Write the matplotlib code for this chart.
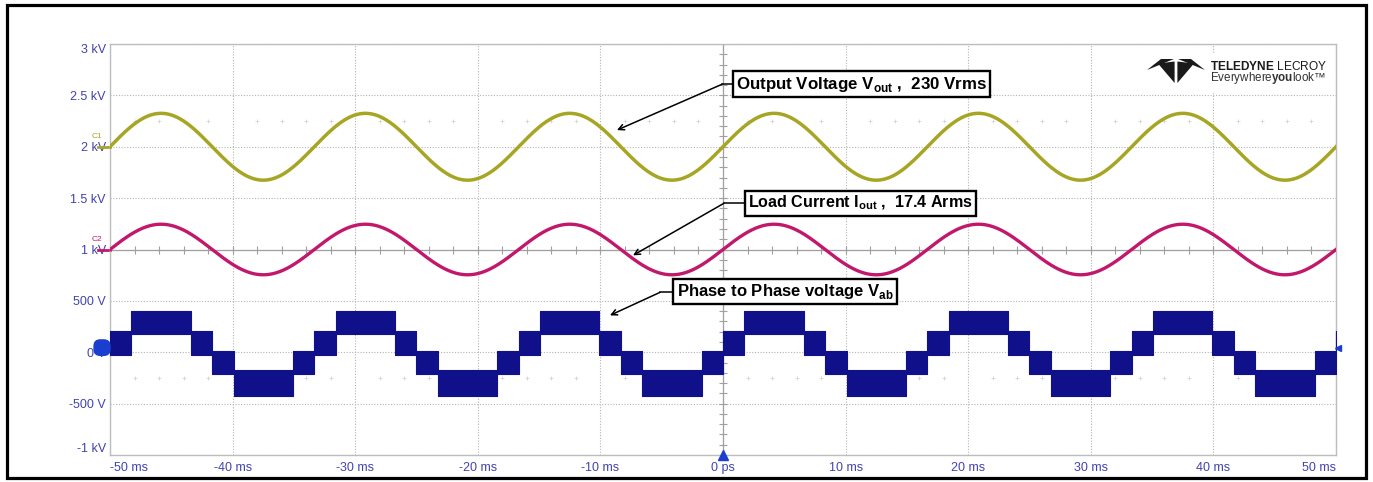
import numpy as np
import matplotlib
matplotlib.use("Agg")
import matplotlib.pyplot as plt
from matplotlib.patches import Polygon, Rectangle, FancyBboxPatch
from matplotlib.transforms import Affine2D

plt.rcParams['font.family'] = ['Liberation Sans', 'DejaVu Sans']
plt.rcParams['mathtext.fontset'] = 'custom'
plt.rcParams['mathtext.rm'] = 'Liberation Sans'
plt.rcParams['mathtext.bf'] = 'Liberation Sans:bold'

# scope readings
freq_hz = 60.0
v_out_rms = 230.0        # C1, output voltage
i_out_rms = 17.4         # C2, load current
c1_offset = 2000.0       # V on screen
c2_offset = 1000.0
c2_volts_per_amp = 10.0

# C3 phase-to-phase voltage, one period: step start (ms) and PWM band limits (V)
c3_step_ms = [0.0, 1.75, 6.58, 8.33, 10.08, 14.92]
c3_band_hi = [205, 400, 205, 10, -175, 10]
c3_band_lo = [-25, 180, -25, -215, -425, -215]

x_ticks = [-50, -40, -30, -20, -10, 0, 10, 20, 30, 40, 50]
x_labels = ['-50 ms', '-40 ms', '-30 ms', '-20 ms', '-10 ms', '0 ps',
            '10 ms', '20 ms', '30 ms', '40 ms', '50 ms']
y_ticks = [-1000, -500, 0, 500, 1000, 1500, 2000, 2500, 3000]
y_labels = ['-1 kV', '-500 V', '0 V', '500 V', '1 kV', '1.5 kV', '2 kV', '2.5 kV', '3 kV']

YELLOW = '#A6A624'
PINK = '#C2186C'
NAVY = '#10108A'
LABEL = '#4242B0'

W, H = 1373, 482
fig = plt.figure(figsize=(W / 100, H / 100), dpi=100)
px = Affine2D().scale(1 / W, -1 / H).translate(0, 1) + fig.transFigure

ax = fig.add_axes([110 / W, 1 - 455 / H, (1336 - 110) / W, (455 - 44) / H])
ax.set_xlim(-50, 50)
ax.set_ylim(-1000, 3000)

# grid
ax.set_xticks(x_ticks, x_labels)
ax.set_yticks(y_ticks, y_labels)
ax.grid(True, color='#B4B4B4', linestyle=(0, (1, 1.5)), linewidth=0.8)
ax.set_axisbelow(True)
for s in ax.spines.values():
    s.set_color('#BDBDBD')
    s.set_linewidth(1.0)
ax.tick_params(length=0, labelsize=9, labelcolor=LABEL)
ax.tick_params(axis='y', pad=3)
ax.tick_params(axis='x', pad=5)
xl = ax.get_xticklabels()
xl[0].set_ha('left')
xl[-1].set_ha('right')
yl = ax.get_yticklabels()
yl[0].set_va('bottom')
yl[-1].set_va('top')

# centre cross with minor ticks
ax.axvline(0, color='#A0A0A0', lw=0.9, zorder=1)
ax.axhline(1000, color='#A0A0A0', lw=0.9, zorder=1)
minor_x = np.arange(-50, 51, 2)
minor_y = np.arange(-1000, 3001, 100)
ax.plot(np.zeros_like(minor_y), minor_y, ls='none', marker='_', ms=6,
        mew=0.8, color='#A0A0A0', zorder=1)
ax.plot(minor_x, np.full_like(minor_x, 1000), ls='none', marker='|', ms=6,
        mew=0.8, color='#A0A0A0', zorder=1)
dot_x = minor_x[minor_x % 10 != 0]
for row in (2250, -250):
    ax.plot(dot_x, np.full(dot_x.shape, row), ls='none', marker='+', ms=2.5,
            mew=0.5, color='#CFCFCF', zorder=1)

# C1 / C2 sine traces
t = np.linspace(-50, 50, 4001)
w = 2 * np.pi * freq_hz / 1000.0
c1 = c1_offset + v_out_rms * np.sqrt(2) * np.sin(w * t)
c2 = c2_offset + i_out_rms * np.sqrt(2) * c2_volts_per_amp * np.sin(w * t)
ax.plot(t, c1, color=YELLOW, lw=2.5, zorder=3)
ax.plot(t, c2, color=PINK, lw=2.4, zorder=3)

# C3 staircase, repeated over the time window
period = 1000.0 / freq_hz
edges, hi, lo = [], [], []
for k in range(-3, 3):
    for s, h, l in zip(c3_step_ms, c3_band_hi, c3_band_lo):
        edges.append(k * period + s)
        hi.append(h)
        lo.append(l)
edges.append(50.0)
hi.append(hi[0])
lo.append(lo[0])
ax.fill_between(edges, lo, hi, step='post', color=NAVY, lw=0.8, zorder=3)

# channel markers
ax.plot([-51.0, -50], [c1_offset, c1_offset], color=YELLOW, lw=2, clip_on=False)
ax.plot([-51.0, -50], [c2_offset, c2_offset], color=PINK, lw=2, clip_on=False)
ax.text(-51.1, c1_offset + 100, 'C1', color=YELLOW, fontsize=6, ha='center', va='center')
ax.text(-51.1, c2_offset + 100, 'C2', color=PINK, fontsize=6, ha='center', va='center')
ax.add_patch(FancyBboxPatch((-51.3, -30), 1.3, 150, boxstyle='round,pad=0,rounding_size=0.5',
                            mutation_aspect=120, color='#1A3FD0', clip_on=False, zorder=4))
ax.plot([0], [-1000], marker='^', ms=7, color='#1A3FD0', clip_on=False, zorder=5)
ax.plot([50.2], [37], marker='<', ms=4, color='#1A3FD0', clip_on=False, zorder=5)

# annotations
box = dict(boxstyle='square,pad=0.2', fc='white', ec='black', lw=1.7)
arrow = dict(arrowstyle='->', color='black', lw=1.1, shrinkA=0, shrinkB=0)
notes = [
    (r'Output Voltage V$_{\mathbf{out}}$ ,  230 Vrms', (11.3, 2610), 12.2,
     [(1.14, 2608), (-0.08, 2608)], (-8.65, 2162)),
    (r'Load Current I$_{\mathbf{out}}$ ,  17.4 Arms', (11.2, 1450), 11.6,
     [(1.8, 1450), (0.08, 1450)], (-7.34, 943)),
    (r'Phase to Phase voltage $\mathbf{V}_{\mathbf{ab}}$', (5.06, 590), 12.0,
     [(-4.08, 583), (-5.14, 583)], (-9.22, 359)),
]
for label, pos, size, path, tip in notes:
    ax.text(pos[0], pos[1], label, fontsize=size, fontweight='bold', ha='center',
            va='center', bbox=box, zorder=6)
    ax.plot([p[0] for p in path], [p[1] for p in path], color='black', lw=1.1, zorder=5)
    ax.annotate('', xy=tip, xytext=path[-1], arrowprops=arrow, zorder=5)

# logo
fig.patches.append(Rectangle((1140, 53), 194, 40, transform=px, fc='white', ec='none', zorder=2))
for poly in ([(1147, 70), (1161, 59), (1174, 59)],
             [(1205, 70), (1191, 59), (1178, 59)],
             [(1158, 63.5), (1174.6, 61.5), (1174.6, 83)],
             [(1194, 63.5), (1177.4, 61.5), (1177.4, 83)]):
    fig.patches.append(Polygon(poly, closed=True, transform=px, fc='#1A1A1A', ec='none', zorder=3))
fig.text(1210 / W, 1 - 66 / H, r'$\mathbf{TELEDYNE}$ LECROY', fontsize=8.6, color='#1A1A1A',
         ha='left', va='center', zorder=4)
fig.text(1210 / W, 1 - 78 / H, r'Everywhere$\mathbf{you}$look™', fontsize=8.4,
         color='#333333', ha='left', va='center', zorder=4)

# outer frame
fig.patches.append(Rectangle((6.5, 4.5), 1359.5, 473, transform=px, fill=False,
                             ec='black', lw=2.3, zorder=10))

fig.savefig('out.png', dpi=100, facecolor='white')
